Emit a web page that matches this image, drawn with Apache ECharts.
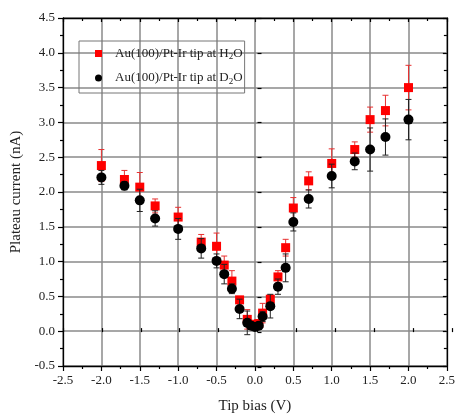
<!DOCTYPE html>
<html>
<head>
<meta charset="utf-8">
<script src="https://cdn.jsdelivr.net/npm/echarts@6/dist/echarts.min.js"></script>
<style>
  html, body { margin: 0; padding: 0; background: #fff; }
  #chart { width: 458px; height: 419px; }
</style>
</head>
<body>
<div id="chart"></div>
<script>
// Tip bias values (V), shared by both data sets
const tipBias = [-2.0, -1.7, -1.5, -1.3, -1.0, -0.7, -0.5, -0.4, -0.3, -0.2, -0.1, -0.05, 0.0, 0.05,
                 0.1, 0.2, 0.3, 0.4, 0.5, 0.7, 1.0, 1.3, 1.5, 1.7, 2.0];

// Plateau current (nA) and its error, H2O
const currentH2O = [2.38, 2.18, 2.07, 1.80, 1.64, 1.28, 1.22, 0.95, 0.72, 0.45, 0.17, 0.10, 0.08, 0.11,
                    0.26, 0.46, 0.78, 1.20, 1.77, 2.16, 2.41, 2.61, 3.04, 3.17, 3.50];
const errorH2O = [0.23, 0.13, 0.21, 0.10, 0.14, 0.11, 0.19, 0.13, 0.15, 0.05, 0.14, 0.05, 0.05, 0.05,
                  0.14, 0.06, 0.09, 0.12, 0.15, 0.13, 0.21, 0.11, 0.18, 0.22, 0.32];

// Plateau current (nA) and its error, D2O
const currentD2O = [2.21, 2.09, 1.88, 1.62, 1.47, 1.19, 1.01, 0.82, 0.61, 0.32, 0.12, 0.08, 0.06, 0.08,
                    0.21, 0.36, 0.64, 0.91, 1.57, 1.90, 2.23, 2.44, 2.61, 2.79, 3.04];
const errorD2O = [0.10, 0.06, 0.16, 0.11, 0.15, 0.14, 0.10, 0.14, 0.07, 0.14, 0.17, 0.05, 0.05, 0.03,
                  0.07, 0.17, 0.11, 0.20, 0.13, 0.13, 0.17, 0.12, 0.31, 0.26, 0.29];

const nameH2O = 'Au(100)/Pt-Ir tip at H2O';
const nameD2O = 'Au(100)/Pt-Ir tip at D2O';

const FONT = '"Liberation Serif", "Times New Roman", serif';
const chart = echarts.init(document.getElementById('chart'), null, { renderer: 'canvas' });

function points(y) { return tipBias.map((x, i) => [x, y[i]]); }
function withErr(y, e) { return tipBias.map((x, i) => [x, y[i], e[i]]); }

// Vertical error bar with short caps, placed through the cartesian scales
function errorBars(color) {
  return function (params, api) {
    const x = api.value(0), y = api.value(1), e = api.value(2);
    const hi = api.coord([x, y + e]);
    const lo = api.coord([x, y - e]);
    const hw = 3;
    const st = { stroke: color, lineWidth: 1 };
    return {
      type: 'group',
      children: [
        { type: 'line', shape: { x1: hi[0], y1: hi[1], x2: lo[0], y2: lo[1] }, style: st },
        { type: 'line', shape: { x1: hi[0] - hw, y1: hi[1], x2: hi[0] + hw, y2: hi[1] }, style: st },
        { type: 'line', shape: { x1: lo[0] - hw, y1: lo[1], x2: lo[0] + hw, y2: lo[1] }, style: st }
      ]
    };
  };
}

const gridBox = { left: 63, right: 6, top: 18, bottom: 52 };
const frameLine = { show: true, onZero: false, lineStyle: { color: '#000', width: 1.3 } };
const labelStyle = { fontFamily: FONT, fontSize: 13, color: '#222' };

const option = {
  backgroundColor: '#fff',
  animation: false,
  grid: [
    Object.assign({}, gridBox),
    Object.assign({}, gridBox)
  ],
  legend: {
    orient: 'vertical',
    left: 79,
    top: 41,
    padding: [6, 2, 7, 16],
    itemGap: 10,
    itemWidth: 7,
    itemHeight: 7,
    borderColor: '#777',
    borderWidth: 1,
    data: [
      { name: nameH2O, icon: 'rect', itemStyle: { color: '#ff0000' } },
      { name: nameD2O, icon: 'circle', itemStyle: { color: '#000' } }
    ],
    formatter: function (n) {
      return n === nameH2O ? 'Au(100)/Pt-Ir tip at H{s|2}O' : 'Au(100)/Pt-Ir tip at D{s|2}O';
    },
    textStyle: {
      fontFamily: FONT, fontSize: 13, color: '#222', padding: [0, 0, 0, 8],
      rich: { s: { fontFamily: FONT, fontSize: 9, color: '#222', padding: [7, 0, 0, 0] } }
    }
  },
  xAxis: [
    {
      gridIndex: 0, type: 'value', position: 'bottom', min: -2.5, max: 2.5, interval: 0.5,
      name: 'Tip bias (V)', nameLocation: 'middle', nameGap: 33,
      nameTextStyle: { fontFamily: FONT, fontSize: 15, color: '#222' },
      axisLine: frameLine,
      axisTick: { show: true, inside: false, length: 5, lineStyle: { color: '#000', width: 1.2 } },
      minorTick: { show: true, splitNumber: 2, length: 3, lineStyle: { color: '#000', width: 1.2 } },
      axisLabel: Object.assign({ margin: 8, formatter: v => v.toFixed(1) }, labelStyle),
      splitLine: { show: true, lineStyle: { color: '#8a8a8a', width: 1.5 } }
    },
    {
      gridIndex: 0, type: 'value', position: 'top', min: -2.5, max: 2.5, interval: 0.5,
      axisLine: frameLine,
      axisTick: { show: true, inside: true, length: 4, lineStyle: { color: '#000', width: 1.2 } },
      minorTick: { show: true, splitNumber: 2, length: 3, lineStyle: { color: '#000', width: 1.2 } },
      axisLabel: { show: false },
      splitLine: { show: false }
    },
    {
      gridIndex: 1, type: 'value', position: 'bottom', min: -2.5, max: 2.5, interval: 0.5,
      axisLine: { show: false },
      axisTick: { show: true, inside: true, length: 4, lineStyle: { color: '#000', width: 1.2 } },
      axisLabel: { show: false },
      splitLine: { show: false }
    }
  ],
  yAxis: [
    {
      gridIndex: 0, type: 'value', position: 'left', min: -0.5, max: 4.5, interval: 0.5,
      name: 'Plateau current (nA)', nameLocation: 'middle', nameGap: 36,
      nameTextStyle: { fontFamily: FONT, fontSize: 15, color: '#222' },
      axisLine: frameLine,
      axisTick: { show: true, inside: false, length: 5, lineStyle: { color: '#000', width: 1.2 } },
      minorTick: { show: true, splitNumber: 2, length: 3, lineStyle: { color: '#000', width: 1.2 } },
      axisLabel: Object.assign({ margin: 8, formatter: v => v.toFixed(1) }, labelStyle),
      splitLine: { show: true, lineStyle: { color: '#8a8a8a', width: 1.5 } }
    },
    {
      gridIndex: 0, type: 'value', position: 'right', min: -0.5, max: 4.5, interval: 0.5,
      axisLine: frameLine,
      axisTick: { show: true, inside: true, length: 4, lineStyle: { color: '#000', width: 1.2 } },
      minorTick: { show: true, splitNumber: 2, length: 3, lineStyle: { color: '#000', width: 1.2 } },
      axisLabel: { show: false },
      splitLine: { show: false }
    },
    {
      gridIndex: 1, type: 'value', position: 'left', min: -0.5, max: 4.5, interval: 0.5,
      axisLine: { show: false },
      axisTick: { show: true, inside: true, length: 4, lineStyle: { color: '#000', width: 1.2 } },
      axisLabel: { show: false },
      splitLine: { show: false }
    }
  ],
  series: [
    {
      name: nameH2O + ' err', type: 'custom', xAxisIndex: 0, yAxisIndex: 0,
      renderItem: errorBars('#e83030'), data: withErr(currentH2O, errorH2O), z: 2, silent: true
    },
    {
      name: nameH2O, type: 'scatter', xAxisIndex: 0, yAxisIndex: 0,
      symbol: 'rect', symbolSize: 9, itemStyle: { color: '#ff0000', opacity: 1 },
      data: points(currentH2O), z: 3
    },
    {
      name: nameD2O + ' err', type: 'custom', xAxisIndex: 0, yAxisIndex: 0,
      renderItem: errorBars('#222'), data: withErr(currentD2O, errorD2O), z: 4, silent: true
    },
    {
      name: nameD2O, type: 'scatter', xAxisIndex: 0, yAxisIndex: 0,
      symbol: 'circle', symbolSize: 10, itemStyle: { color: '#000', opacity: 1 },
      data: points(currentD2O), z: 5
    }
  ]
};

chart.setOption(option);
</script>
</body>
</html>
